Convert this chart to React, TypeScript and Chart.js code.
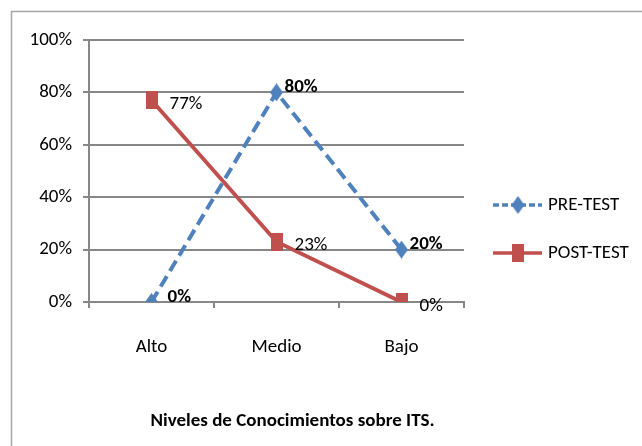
import React, { useEffect, useRef } from "react";
import { Chart, registerables } from "chart.js";

Chart.register(...registerables);

const categories = ["Alto", "Medio", "Bajo"];
const preTest = [0, 80, 20];
const postTest = [77, 23, 0];
const yTicks = [0, 20, 40, 60, 80, 100];
const seriesNames = ["PRE-TEST", "POST-TEST"];
const xTitle = "Niveles de Conocimientos sobre ITS.";

const BLUE = "#4F81BD";
const RED = "#C0504D";
const GRID = "#878787";
const FONT = "Carlito, 'Liberation Sans Narrow', 'DejaVu Sans Condensed', sans-serif";
const FS = 19;

function makeMarker(kind: string, w: number, h: number, color: string) {
  const c = document.createElement("canvas");
  c.width = w;
  c.height = h;
  const ctx = c.getContext("2d")!;
  ctx.fillStyle = color;
  if (kind === "diamond") {
    ctx.beginPath();
    ctx.moveTo(w / 2, 0);
    ctx.lineTo(w, h / 2);
    ctx.lineTo(w / 2, h);
    ctx.lineTo(0, h / 2);
    ctx.closePath();
    ctx.fill();
  } else {
    ctx.fillRect(0, 0, w, h);
  }
  return c;
}

export default function App() {
  const ref = useRef<HTMLCanvasElement | null>(null);

  useEffect(() => {
    if (!ref.current) return;
    const diamond = makeMarker("diamond", 13, 18, BLUE);
    const square = makeMarker("square", 12, 18, RED);

    const framePlugin = {
      id: "frame",
      beforeDraw(chart: any) {
        const { ctx, width, height } = chart;
        ctx.save();
        ctx.fillStyle = "#ffffff";
        ctx.fillRect(0, 0, width, height);
        ctx.strokeStyle = "#a6a6a6";
        ctx.lineWidth = 1.5;
        ctx.strokeRect(11.5, 11.5, width + 20, height + 20);
        ctx.restore();
      },
    };

    const labelPlugin = {
      id: "valueLabels",
      afterDatasetsDraw(chart: any) {
        const { ctx } = chart;
        ctx.save();
        ctx.fillStyle = "#000000";
        ctx.textAlign = "left";
        ctx.textBaseline = "middle";
        chart.data.datasets.forEach((ds: any, i: number) => {
          const meta = chart.getDatasetMeta(i);
          ctx.font = (i === 0 ? "bold " : "") + FS + "px " + FONT;
          meta.data.forEach((pt: any, j: number) => {
            const v = ds.data[j];
            const dx = i === 0 ? (v === 0 ? 16 : 8) : 18;
            const dy = i === 0 ? -5 : 4;
            ctx.fillText(v + "%", pt.x + dx, pt.y + dy);
          });
        });
        ctx.restore();
      },
    };

    const legendTitlePlugin = {
      id: "legendTitle",
      afterDraw(chart: any) {
        const { ctx, chartArea } = chart;
        ctx.save();
        const lx = chartArea.right + 29;
        const midY = (chartArea.top + chartArea.bottom) / 2;
        const rows = [
          { name: seriesNames[0], color: BLUE, dash: [6, 3], img: diamond, y: midY + 34 },
          { name: seriesNames[1], color: RED, dash: [], img: square, y: midY + 82 },
        ];
        rows.forEach((r) => {
          ctx.strokeStyle = r.color;
          ctx.lineWidth = 3.5;
          ctx.setLineDash(r.dash);
          ctx.beginPath();
          ctx.moveTo(lx, r.y);
          ctx.lineTo(lx + 49, r.y);
          ctx.stroke();
          ctx.setLineDash([]);
          ctx.drawImage(r.img, lx + 25 - r.img.width / 2, r.y - r.img.height / 2);
          ctx.fillStyle = "#000000";
          ctx.font = FS + "px " + FONT;
          ctx.textAlign = "left";
          ctx.textBaseline = "middle";
          ctx.fillText(r.name, lx + 55, r.y);
        });
        ctx.font = "bold " + FS + "px " + FONT;
        ctx.textAlign = "center";
        ctx.textBaseline = "middle";
        ctx.fillStyle = "#000000";
        ctx.fillText(xTitle, (chartArea.left + chartArea.right) / 2 + 16, chartArea.bottom + 119);
        ctx.restore();
      },
    };

    const chart = new Chart(ref.current, {
      type: "line",
      data: {
        labels: categories,
        datasets: [
          {
            label: seriesNames[0],
            data: preTest,
            borderColor: BLUE,
            backgroundColor: BLUE,
            borderWidth: 4,
            borderDash: [12, 6],
            borderCapStyle: "butt",
            pointStyle: diamond as any,
            pointRadius: 8,
            tension: 0,
          },
          {
            label: seriesNames[1],
            data: postTest,
            borderColor: RED,
            backgroundColor: RED,
            borderWidth: 4,
            pointStyle: square as any,
            pointRadius: 8,
            tension: 0,
          },
        ],
      },
      options: {
        responsive: false,
        animation: false,
        layout: { padding: { top: 40, left: 0, right: 178, bottom: 0 } },
        plugins: {
          legend: { display: false },
          tooltip: { enabled: false },
        },
        scales: {
          x: {
            offset: true,
            grid: {
              offset: true,
              drawOnChartArea: false,
              drawTicks: true,
              tickLength: 6,
              color: GRID,
              lineWidth: 2,
            },
            border: { display: true, color: GRID, width: 2 },
            ticks: {
              padding: 28,
              color: "#000000",
              font: { family: FONT, size: FS },
            },
            afterFit(scale: any) {
              scale.height = 144;
            },
          },
          y: {
            min: 0,
            max: 100,
            afterBuildTicks(scale: any) {
              scale.ticks = yTicks.map((v) => ({ value: v }));
            },
            grid: {
              color: GRID,
              lineWidth: 2,
              drawTicks: true,
              tickLength: 6,
            },
            border: { display: true, color: GRID, width: 2 },
            ticks: {
              padding: 11,
              color: "#000000",
              font: { family: FONT, size: FS },
              callback: (v: any) => v + "%",
            },
            afterFit(scale: any) {
              scale.width = 89;
            },
          },
        },
      },
      plugins: [framePlugin, labelPlugin, legendTitlePlugin],
    });
    return () => chart.destroy();
  }, []);

  return (
    <div style={{ position: "absolute", left: 0, top: 0, width: 642, height: 446 }}>
      <canvas ref={ref} width={642} height={446} />
    </div>
  );
}
